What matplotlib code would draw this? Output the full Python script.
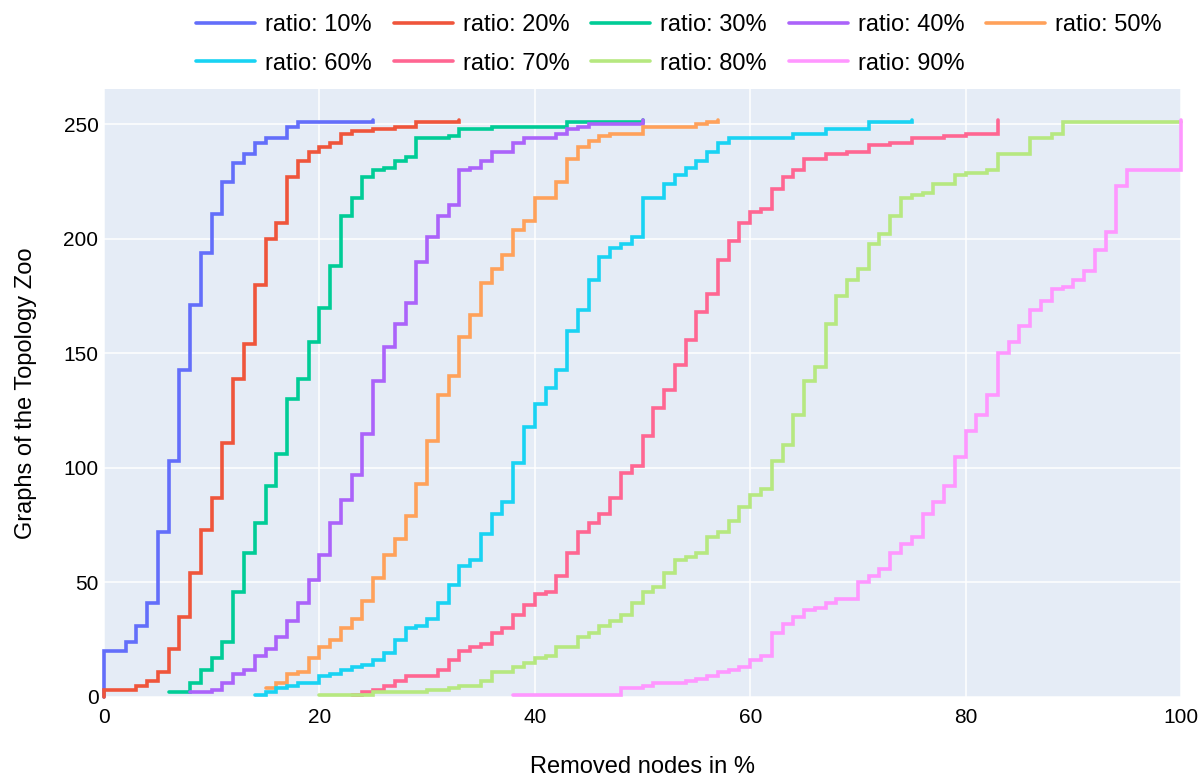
import matplotlib
matplotlib.use("Agg")
import matplotlib.pyplot as plt

plt.rcParams['font.family'] = ['Liberation Sans', 'DejaVu Sans']

# step curves (x = removed nodes in %, y = number of graphs)
x_10 = [0, 0, 2, 3, 4, 5, 6, 7, 8, 9, 10, 11, 12, 13, 14, 15, 17, 18, 25]
y_10 = [0, 20, 24, 31, 41, 72, 103, 143, 171, 194, 211, 225, 233, 237, 242, 244, 249, 251, 252]

x_20 = [0, 0, 3, 4, 5, 6, 7, 8, 9, 10, 11, 12, 13, 14, 15, 16, 17, 18, 19, 20, 21, 22, 23, 25, 27, 29, 33]
y_20 = [0, 3, 5, 7, 11, 21, 35, 54, 73, 87, 111, 139, 154, 180, 200, 207, 227, 234, 238, 240, 242, 246, 247, 248, 249, 251, 252]

x_30 = [6, 8, 9, 10, 11, 12, 13, 14, 15, 16, 17, 18, 19, 20, 21, 22, 23, 24, 25, 26, 27, 28, 29, 32, 33, 36, 43, 50]
y_30 = [2, 6, 12, 17, 24, 46, 63, 76, 92, 106, 130, 139, 155, 170, 188, 210, 218, 227, 230, 231, 234, 236, 244, 245, 248, 249, 251, 252]

x_40 = [8, 10, 11, 12, 13, 14, 15, 16, 17, 18, 19, 20, 21, 22, 23, 24, 25, 26, 27, 28,
        29, 30, 31, 32, 33, 34, 35, 36, 38, 39, 42, 43, 44, 45, 50]
y_40 = [2, 3, 6, 10, 12, 18, 21, 26, 33, 41, 51, 62, 76, 86, 97, 115, 138, 153, 163, 172,
        190, 201, 210, 215, 230, 231, 234, 238, 242, 244, 246, 248, 249, 250, 252]

x_50 = [15, 16, 17, 18, 19, 20, 21, 22, 23, 24, 25, 26, 27, 28, 29, 30, 31, 32, 33, 34,
        35, 36, 37, 38, 39, 40, 42, 43, 44, 45, 46, 47, 50, 55, 56, 57]
y_50 = [4, 6, 10, 11, 17, 22, 25, 30, 34, 42, 52, 62, 69, 79, 93, 112, 132, 140, 157, 167,
        181, 187, 193, 204, 208, 218, 225, 235, 240, 243, 245, 246, 249, 250, 251, 252]

x_60 = [14, 15, 16, 17, 18, 20, 21, 22, 23, 24, 25, 26, 27, 28, 29, 30, 31, 32, 33, 34,
        35, 36, 37, 38, 39, 40, 41, 42, 43, 44, 45, 46, 47, 48, 49, 50, 52, 53, 54, 55,
        56, 57, 58, 64, 67, 71, 75]
y_60 = [1, 2, 4, 5, 6, 9, 10, 12, 13, 14, 16, 19, 25, 30, 31, 34, 41, 49, 57, 60,
        71, 80, 85, 102, 118, 128, 135, 143, 160, 169, 182, 192, 196, 198, 201, 218, 224, 228, 231, 234,
        238, 242, 244, 246, 248, 251, 252]

x_70 = [23, 24, 25, 26, 27, 28, 31, 32, 33, 34, 35, 36, 37, 38, 39, 40, 41, 42, 43, 44,
        45, 46, 47, 48, 49, 50, 51, 52, 53, 54, 55, 56, 57, 58, 59, 60, 61, 62, 63, 64,
        65, 67, 69, 71, 73, 75, 78, 80, 83]
y_70 = [1, 2, 3, 5, 7, 9, 12, 16, 20, 22, 23, 28, 30, 36, 40, 45, 46, 53, 63, 72,
        76, 80, 87, 98, 101, 114, 126, 134, 145, 156, 168, 176, 191, 199, 207, 212, 213, 222, 227, 230,
        235, 237, 238, 241, 242, 244, 245, 246, 252]

x_80 = [20, 25, 30, 32, 33, 35, 36, 38, 39, 40, 41, 42, 44, 45, 46, 47, 48, 49, 50, 51,
        52, 53, 54, 55, 56, 57, 58, 59, 60, 61, 62, 63, 64, 65, 66, 67, 68, 69, 70, 71,
        72, 73, 74, 75, 76, 77, 79, 80, 82, 83, 86, 88, 89, 100]
y_80 = [1, 2, 3, 4, 5, 7, 11, 13, 15, 17, 18, 22, 26, 28, 31, 33, 36, 41, 46, 48,
        54, 60, 61, 63, 70, 72, 77, 83, 88, 91, 103, 110, 123, 138, 144, 163, 175, 182, 187, 198,
        202, 210, 218, 219, 220, 224, 228, 229, 230, 237, 244, 246, 251, 251]

x_90 = [38, 48, 50, 51, 54, 55, 56, 57, 58, 59, 60, 61, 62, 63, 64, 65, 66, 67, 68, 70,
        71, 72, 73, 74, 75, 76, 77, 78, 79, 80, 81, 82, 83, 84, 85, 86, 87, 88, 89, 90,
        91, 92, 93, 94, 95, 100]
y_90 = [1, 4, 5, 6, 7, 8, 9, 11, 12, 13, 16, 18, 28, 32, 35, 38, 39, 41, 43, 50,
        53, 56, 63, 67, 70, 80, 85, 92, 105, 116, 123, 132, 150, 155, 162, 169, 173, 178, 179, 182,
        186, 195, 203, 223, 230, 252]

labels = ["ratio: 10%", "ratio: 20%", "ratio: 30%", "ratio: 40%", "ratio: 50%",
          "ratio: 60%", "ratio: 70%", "ratio: 80%", "ratio: 90%"]
series = [(x_10, y_10), (x_20, y_20), (x_30, y_30), (x_40, y_40), (x_50, y_50),
          (x_60, y_60), (x_70, y_70), (x_80, y_80), (x_90, y_90)]
colors = ['#636EFA', '#EF553B', '#00CC96', '#AB63FA', '#FFA15A',
          '#19D3F3', '#FF6692', '#B6E880', '#FF97FF']

fig = plt.figure(figsize=(12.02, 7.78), dpi=100)
ax = fig.add_axes([104 / 1202, 81 / 778, 1077 / 1202, 608 / 778])
ax.set_facecolor('#E5ECF6')

lines = []
for (xs, ys), lab, col in zip(series, labels, colors):
    ln, = ax.step(xs, ys, where='post', color=col, linewidth=2.6, label=lab,
                  solid_capstyle='round', solid_joinstyle='miter', clip_on=False, zorder=3)
    lines.append(ln)

ax.set_xlim(0, 100)
ax.set_ylim(0, 265.5)
ax.set_xticks([0, 20, 40, 60, 80, 100])
ax.set_yticks([0, 50, 100, 150, 200, 250])
ax.grid(True, color='white', linewidth=1.1, zorder=0)
ax.set_axisbelow(True)
for s in ax.spines.values():
    s.set_visible(False)
ax.tick_params(axis='both', length=0, labelsize=15, colors='black')
ax.tick_params(axis='x', pad=8)
ax.tick_params(axis='y', pad=4)

ax.set_xlabel("Removed nodes in %", fontsize=17, labelpad=21)
ax.set_ylabel("Graphs of the Topology Zoo", fontsize=17, labelpad=19)

# legend fills column by column, so interleave to get rows 10..50 / 60..90
order = [0, 5, 1, 6, 2, 7, 3, 8, 4]
fig.legend([lines[i] for i in order], [labels[i] for i in order],
           loc='upper left', bbox_to_anchor=(196 / 1202, 1 - 14 / 778), ncol=5,
           frameon=False, fontsize=17, handlelength=2.5, handletextpad=0.42,
           columnspacing=0.93, labelspacing=0.7, borderpad=0, borderaxespad=0)

fig.savefig("out.png", dpi=100)
